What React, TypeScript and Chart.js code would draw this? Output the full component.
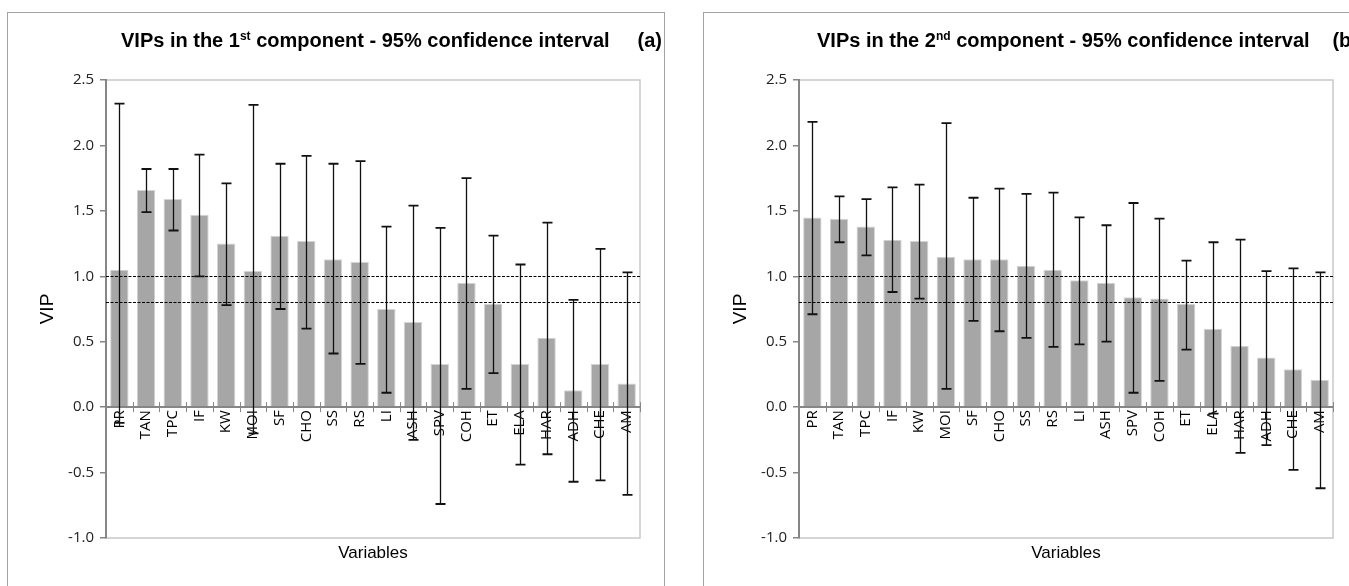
import React, { useEffect, useRef } from "react";
import { Chart, registerables } from "chart.js";

Chart.register(...registerables);

// ---------- data ----------
const categoriesA = ["PR", "TAN", "TPC", "IF", "KW", "MOI", "SF", "CHO", "SS", "RS", "LI", "ASH", "SPV", "COH", "ET", "ELA", "HAR", "ADH", "CHE", "AM"];
const vipA = [1.05, 1.66, 1.59, 1.47, 1.25, 1.04, 1.31, 1.27, 1.13, 1.11, 0.75, 0.65, 0.33, 0.95, 0.79, 0.33, 0.53, 0.13, 0.33, 0.18];
const upperA = [2.32, 1.82, 1.82, 1.93, 1.71, 2.31, 1.86, 1.92, 1.86, 1.88, 1.38, 1.54, 1.37, 1.75, 1.31, 1.09, 1.41, 0.82, 1.21, 1.03];
const lowerA = [-0.12, 1.49, 1.35, 1.0, 0.78, -0.2, 0.75, 0.6, 0.41, 0.33, 0.11, -0.25, -0.74, 0.14, 0.26, -0.44, -0.36, -0.57, -0.56, -0.67];

const categoriesB = ["PR", "TAN", "TPC", "IF", "KW", "MOI", "SF", "CHO", "SS", "RS", "LI", "ASH", "SPV", "COH", "ET", "ELA", "HAR", "ADH", "CHE", "AM"];
const vipB = [1.45, 1.44, 1.38, 1.28, 1.27, 1.15, 1.13, 1.13, 1.08, 1.05, 0.97, 0.95, 0.84, 0.83, 0.79, 0.6, 0.47, 0.38, 0.29, 0.21];
const upperB = [2.18, 1.61, 1.59, 1.68, 1.7, 2.17, 1.6, 1.67, 1.63, 1.64, 1.45, 1.39, 1.56, 1.44, 1.12, 1.26, 1.28, 1.04, 1.06, 1.03];
const lowerB = [0.71, 1.26, 1.16, 0.88, 0.83, 0.14, 0.66, 0.58, 0.53, 0.46, 0.48, 0.5, 0.11, 0.2, 0.44, -0.05, -0.35, -0.29, -0.48, -0.62];

const yTickValues = [-1.0, -0.5, 0.0, 0.5, 1.0, 1.5, 2.0, 2.5];
const thresholdLines = [1.0, 0.8];

const AXIS_GRAY = "#868686";

// ---------- plugin ----------
const vipDecor = {
  id: "vipDecor",
  beforeDraw(chart: any) {
    const { ctx, chartArea: a } = chart;
    ctx.save();
    ctx.strokeStyle = "#c9c9c9";
    ctx.lineWidth = 1.5;
    ctx.strokeRect(a.left, a.top, a.right - a.left, a.bottom - a.top);
    ctx.restore();
  },
  afterDraw(chart: any) {
    const { ctx, chartArea: a } = chart;
    const x = chart.scales.x;
    const y = chart.scales.y;
    const o = chart.options.plugins.vipDecor;
    const n = chart.data.labels.length;
    const step = x.getPixelForValue(1) - x.getPixelForValue(0);
    const y0 = y.getPixelForValue(0);
    ctx.save();

    // category boundary tick marks crossing the zero axis
    ctx.strokeStyle = AXIS_GRAY;
    ctx.lineWidth = 1;
    for (let i = 1; i <= n; i++) {
      const px = Math.round(x.getPixelForValue(i - 1) + step / 2) + 0.5;
      ctx.beginPath();
      ctx.moveTo(px, y0 - 5);
      ctx.lineTo(px, y0 + 5);
      ctx.stroke();
    }

    // threshold dashed lines
    ctx.strokeStyle = "#000";
    ctx.lineWidth = 1;
    ctx.setLineDash([3, 1.5]);
    for (const t of o.thresholds) {
      const py = Math.round(y.getPixelForValue(t)) + 0.5;
      ctx.beginPath();
      ctx.moveTo(a.left, py);
      ctx.lineTo(a.right, py);
      ctx.stroke();
    }
    ctx.setLineDash([]);

    // error bars
    ctx.strokeStyle = "#111";
    for (let i = 0; i < n; i++) {
      const px = Math.round(x.getPixelForValue(i)) + 0.5;
      const yu = y.getPixelForValue(o.upper[i]);
      const yl = y.getPixelForValue(o.lower[i]);
      ctx.lineWidth = 1.3;
      ctx.beginPath();
      ctx.moveTo(px, yu);
      ctx.lineTo(px, yl);
      ctx.stroke();
      ctx.lineWidth = 1.8;
      ctx.beginPath();
      ctx.moveTo(px - 5, yu);
      ctx.lineTo(px + 5, yu);
      ctx.moveTo(px - 5, yl);
      ctx.lineTo(px + 5, yl);
      ctx.stroke();
    }

    // x axis title
    ctx.font = '17px "Liberation Sans", Arial, sans-serif';
    ctx.fillStyle = "#000";
    ctx.textAlign = "center";
    ctx.textBaseline = "middle";
    ctx.fillText(o.xTitle, (a.left + a.right) / 2, a.bottom + 15);
    ctx.restore();
  },
};

// ---------- chart ----------
type ChartProps = {
  cats: string[];
  vip: number[];
  upper: number[];
  lower: number[];
  padLeft: number;
  padRight: number;
};

function VipChart({ cats, vip, upper, lower, padLeft, padRight }: ChartProps) {
  const ref = useRef<HTMLCanvasElement>(null);
  useEffect(() => {
    const chart = new Chart(ref.current as HTMLCanvasElement, {
      type: "bar",
      data: {
        labels: cats,
        datasets: [
          {
            data: vip,
            backgroundColor: "#a6a6a6",
            borderColor: "#d4d4d4",
            borderWidth: 1,
            barPercentage: 0.69,
            categoryPercentage: 1,
          },
        ],
      },
      options: {
        responsive: false,
        animation: false,
        events: [],
        layout: { padding: { left: padLeft, right: padRight, top: 67, bottom: 49 } },
        plugins: {
          legend: { display: false },
          tooltip: { enabled: false },
          title: { display: false },
          vipDecor: { upper, lower, thresholds: thresholdLines, xTitle: "Variables" },
        } as any,
        scales: {
          x: {
            position: { y: 0 } as any,
            offset: true,
            ticks: {
              minRotation: 90,
              maxRotation: 90,
              autoSkip: false,
              padding: 3,
              color: "#000",
              font: { family: '"Open Sans", sans-serif', size: 15 },
            },
            grid: { display: true, drawOnChartArea: false, drawTicks: false },
            border: { display: true, color: AXIS_GRAY, width: 2, z: 1 } as any,
            afterFit: (s: any) => {
              s.height = 0;
            },
          },
          y: {
            min: -1,
            max: 2.5,
            afterBuildTicks: (s: any) => {
              s.ticks = yTickValues.map((v) => ({ value: v }));
            },
            ticks: {
              padding: 6,
              color: "#222",
              font: { family: '"Open Sans", sans-serif', size: 15 },
              callback: (v: any) => Number(v).toFixed(1),
            },
            grid: { drawOnChartArea: false, drawTicks: true, tickLength: 6, color: AXIS_GRAY, lineWidth: 1.5 },
            border: { display: true, color: AXIS_GRAY, width: 2 },
            title: {
              display: true,
              text: "VIP",
              color: "#000",
              font: { family: '"Liberation Sans", Arial, sans-serif', size: 19 },
              padding: { top: 0, bottom: 0 },
            },
            afterFit: (s: any) => {
              s.width = 70;
            },
          },
        },
      },
      plugins: [vipDecor],
    } as any);
    return () => chart.destroy();
  }, []);
  return <canvas ref={ref} width={656} height={574} style={{ display: "block" }} />;
}

// ---------- panel ----------
type PanelProps = ChartProps & {
  left: number;
  ordinal: string;
  sup: string;
  tag: string;
};

function Panel(p: PanelProps) {
  const titleFont = {
    fontFamily: '"Liberation Sans", Arial, sans-serif',
    fontWeight: "bold" as const,
    fontSize: 20,
    lineHeight: "24px",
    color: "#000",
  };
  return (
    <div
      style={{
        position: "absolute",
        left: p.left,
        top: 12,
        width: 656,
        height: 600,
        border: "1px solid #a3a3a3",
        background: "#fff",
      }}
    >
      <VipChart cats={p.cats} vip={p.vip} upper={p.upper} lower={p.lower} padLeft={p.padLeft} padRight={p.padRight} />
      <div style={{ ...titleFont, position: "absolute", left: 113, top: 15, whiteSpace: "nowrap" }}>
        VIPs in the {p.ordinal}
        <sup style={{ fontSize: 12, lineHeight: 0, verticalAlign: "7px" }}>{p.sup}</sup> component - 95% confidence interval
      </div>
      <div style={{ ...titleFont, position: "absolute", right: 2, top: 15 }}>{p.tag}</div>
    </div>
  );
}

export default function App() {
  return (
    <div style={{ position: "absolute", left: 0, top: 0, width: 1349, height: 586, overflow: "hidden", background: "#fff" }}>
      <Panel left={7} cats={categoriesA} vip={vipA} upper={upperA} lower={lowerA} padLeft={28} padRight={24} ordinal="1" sup="st" tag="(a)" />
      <Panel left={703} cats={categoriesB} vip={vipB} upper={upperB} lower={lowerB} padLeft={25} padRight={27} ordinal="2" sup="nd" tag="(b)" />
    </div>
  );
}
